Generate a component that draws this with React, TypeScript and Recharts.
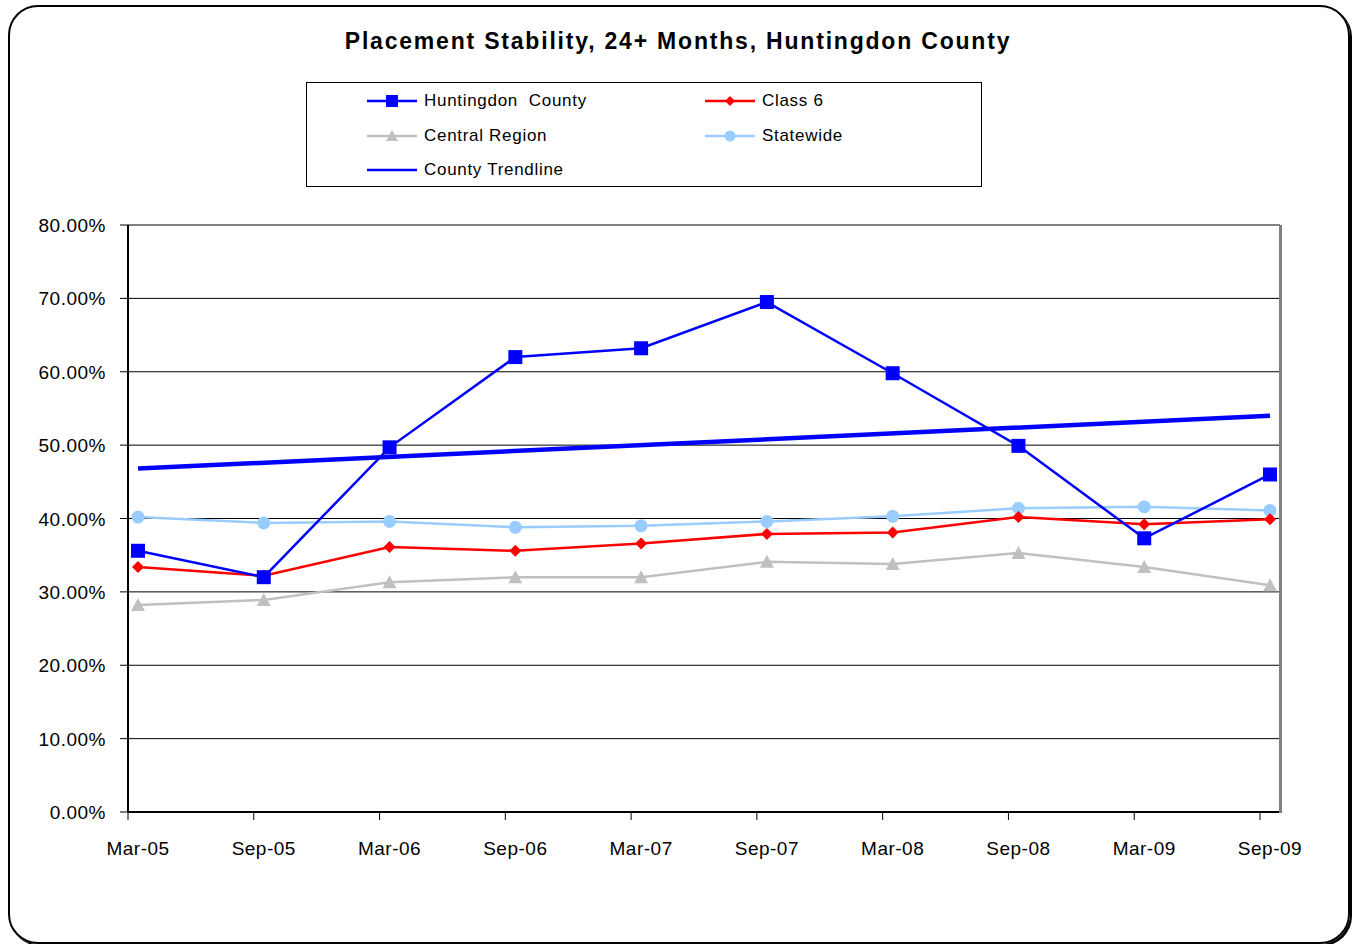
import React from 'react'
import { LineChart, Line, XAxis, YAxis, CartesianGrid, ReferenceLine } from 'recharts'

const periods = ['Mar-05', 'Sep-05', 'Mar-06', 'Sep-06', 'Mar-07', 'Sep-07', 'Mar-08', 'Sep-08', 'Mar-09', 'Sep-09']
const huntingdon = [35.6, 32.0, 49.7, 62.0, 63.2, 69.5, 59.8, 49.9, 37.3, 46.0]
const class6 = [33.4, 32.2, 36.1, 35.6, 36.6, 37.9, 38.1, 40.2, 39.2, 39.9]
const central = [28.2, 28.9, 31.3, 32.0, 32.0, 34.1, 33.8, 35.3, 33.4, 30.9]
const statewide = [40.2, 39.4, 39.6, 38.8, 39.0, 39.6, 40.3, 41.4, 41.6, 41.1]
const trendEnds = [46.8, 54.0]
const yTicks = [0, 10, 20, 30, 40, 50, 60, 70, 80]

const data = periods.map((p, i) => ({
    period: p,
    huntingdon: huntingdon[i],
    class6: class6[i],
    central: central[i],
    statewide: statewide[i],
}))

const FONT = '"Liberation Sans", Arial, sans-serif'

const Square = (props: any) => {
    const { cx, cy } = props
    if (cx == null || cy == null) return null
    return <rect x={cx - 7} y={cy - 7} width={14} height={14} fill='#0000ff' />
}
const Diamond = (props: any) => {
    const { cx, cy } = props
    if (cx == null || cy == null) return null
    return <polygon points={`${cx},${cy - 6} ${cx + 6},${cy} ${cx},${cy + 6} ${cx - 6},${cy}`} fill='#ff0000' />
}
const Triangle = (props: any) => {
    const { cx, cy } = props
    if (cx == null || cy == null) return null
    return <polygon points={`${cx},${cy - 7} ${cx + 7},${cy + 6} ${cx - 7},${cy + 6}`} fill='#c0c0c0' />
}
const Circle = (props: any) => {
    const { cx, cy } = props
    if (cx == null || cy == null) return null
    return <circle cx={cx} cy={cy} r={6.5} fill='#99ccff' />
}

const XTick = (props: any) => {
    const { x, y, payload } = props
    return (
        <g>
            <line x1={x - 10} x2={x - 10} y1={y - 8} y2={y} stroke='#000' strokeWidth={1} />
            <text x={x} y={y + 35} textAnchor='middle' fontSize={19} letterSpacing={0.5} fontFamily={FONT} fill='#000'>
                {payload.value}
            </text>
        </g>
    )
}

const YTick = (props: any) => {
    const { x, y, payload } = props
    return (
        <text x={x - 12} y={y + 7} textAnchor='end' fontSize={19} letterSpacing={0.5} fontFamily={FONT} fill='#000'>
            {`${Number(payload.value).toFixed(2)}%`}
        </text>
    )
}

const legendItems = [
    { label: 'Huntingdon  County', color: '#0000ff', marker: 'square', col: 0, row: 0 },
    { label: 'Class 6', color: '#ff0000', marker: 'diamond', col: 1, row: 0 },
    { label: 'Central Region', color: '#c0c0c0', marker: 'triangle', col: 0, row: 1 },
    { label: 'Statewide', color: '#99ccff', marker: 'circle', col: 1, row: 1 },
    { label: 'County Trendline', color: '#0000ff', marker: 'none', col: 0, row: 2 },
]

const LegendBox = () => (
    <div
        style={{
            position: 'absolute',
            left: 306,
            top: 82,
            width: 676,
            height: 105,
            border: '1.5px solid #000',
            boxSizing: 'border-box',
            background: '#fff',
        }}
    >
        {legendItems.map((it) => {
            const left = it.col === 0 ? 60 : 398
            const top = 6 + it.row * 34.5
            return (
                <div key={it.label} style={{ position: 'absolute', left, top, height: 24, display: 'flex', alignItems: 'center' }}>
                    <svg width={52} height={24}>
                        <line x1={0} x2={50} y1={12} y2={12} stroke={it.color} strokeWidth={2.5} />
                        {it.marker === 'square' && <rect x={19} y={6} width={12} height={12} fill={it.color} />}
                        {it.marker === 'diamond' && <polygon points='25,7 30,12 25,17 20,12' fill={it.color} />}
                        {it.marker === 'triangle' && <polygon points='25,6 31,17 19,17' fill={it.color} />}
                        {it.marker === 'circle' && <circle cx={25} cy={12} r={5.5} fill={it.color} />}
                    </svg>
                    <span
                        style={{
                            marginLeft: 5,
                            fontSize: 17,
                            letterSpacing: 0.7,
                            fontFamily: FONT,
                            color: '#000',
                            whiteSpace: 'pre',
                        }}
                    >
                        {it.label}
                    </span>
                </div>
            )
        })}
    </div>
)

export default function App() {
    return (
        <div style={{ position: 'absolute', left: 0, top: 0, width: 1356, height: 944, background: '#fff' }}>
            <div
                style={{
                    position: 'absolute',
                    left: 8,
                    top: 5,
                    width: 1338,
                    height: 935,
                    border: '2px solid #000',
                    borderRadius: 30,
                    boxShadow: '2px 2px 0 #000',
                }}
            />
            <div style={{ position: 'absolute', left: 0, top: 0 }}>
                <LineChart width={1356} height={944} data={data} margin={{ top: 225, right: 76, bottom: 92, left: 8 }}>
                    <CartesianGrid horizontal vertical={false} stroke='#000' strokeWidth={1} />
                    <XAxis
                        dataKey='period'
                        padding={{ left: 10, right: 10 }}
                        axisLine={{ stroke: '#000', strokeWidth: 2 }}
                        tickLine={false}
                        tick={<XTick />}
                        height={40}
                        interval={0}
                    />
                    <YAxis
                        domain={[0, 80]}
                        ticks={yTicks}
                        width={120}
                        axisLine={{ stroke: '#000', strokeWidth: 2 }}
                        tickLine={{ stroke: '#000' }}
                        tickSize={8}
                        tick={<YTick />}
                        allowDataOverflow
                    />
                    <Line dataKey='central' name='Central Region' stroke='#c0c0c0' strokeWidth={2.5} dot={<Triangle />} activeDot={false} isAnimationActive={false} />
                    <Line dataKey='statewide' name='Statewide' stroke='#99ccff' strokeWidth={2.5} dot={<Circle />} activeDot={false} isAnimationActive={false} />
                    <Line dataKey='class6' name='Class 6' stroke='#ff0000' strokeWidth={2.5} dot={<Diamond />} activeDot={false} isAnimationActive={false} />
                    <ReferenceLine
                        segment={[
                            { x: periods[0], y: trendEnds[0] },
                            { x: periods[periods.length - 1], y: trendEnds[1] },
                        ]}
                        stroke='#0000ff'
                        strokeWidth={4.5}
                    />
                    <Line dataKey='huntingdon' name='Huntingdon  County' stroke='#0000ff' strokeWidth={2.5} dot={<Square />} activeDot={false} isAnimationActive={false} />
                </LineChart>
            </div>
            {/* grey right edge of the plot area */}
            <div style={{ position: 'absolute', left: 1279, top: 225, width: 3, height: 588, background: '#808080' }} />
            <div
                style={{
                    position: 'absolute',
                    left: 0,
                    top: 28,
                    width: 1356,
                    textAlign: 'center',
                    fontFamily: FONT,
                    fontWeight: 'bold',
                    fontSize: 23,
                    letterSpacing: 1.8,
                    color: '#000',
                }}
            >
                Placement Stability, 24+ Months, Huntingdon County
            </div>
            <LegendBox />
        </div>
    )
}
